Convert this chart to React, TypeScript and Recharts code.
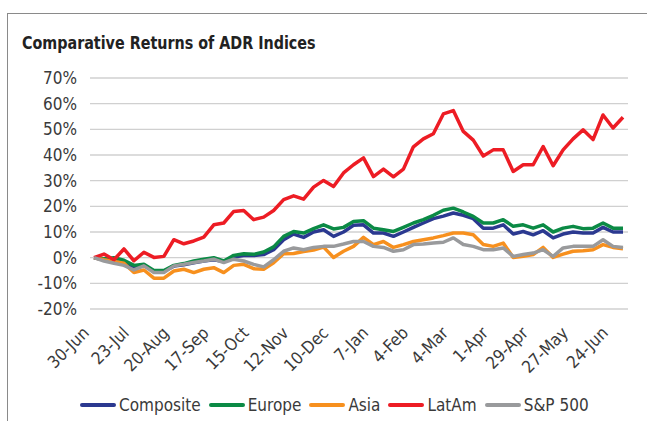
import { LineChart, Line, XAxis, YAxis, CartesianGrid, Legend } from 'recharts'

const dates = [
  '30-Jun', '2-Jul', '9-Jul', '16-Jul', '23-Jul', '30-Jul', '6-Aug', '13-Aug', '20-Aug', '27-Aug',
  '3-Sep', '10-Sep', '17-Sep', '24-Sep', '1-Oct', '8-Oct', '15-Oct', '22-Oct', '29-Oct', '5-Nov',
  '12-Nov', '19-Nov', '26-Nov', '3-Dec', '10-Dec', '17-Dec', '24-Dec', '31-Dec', '7-Jan', '14-Jan',
  '21-Jan', '28-Jan', '4-Feb', '11-Feb', '18-Feb', '25-Feb', '4-Mar', '11-Mar', '18-Mar', '25-Mar',
  '1-Apr', '8-Apr', '15-Apr', '22-Apr', '29-Apr', '6-May', '13-May', '20-May', '27-May', '3-Jun',
  '10-Jun', '17-Jun', '24-Jun', '1-Jul',
]

const composite = [
  0, -0.8, -1.5, -2, -3.5, -3, -5.3, -5.3, -3.3, -2.8,
  -2, -1.3, -0.8, -1.5, 0.3, 0.8, 0.8, 1.2, 3.1, 7.0,
  9.2, 7.9, 10.0, 10.9, 8.3, 10.0, 12.6, 12.8, 9.6, 9.6,
  8.3, 10.0, 11.8, 13.5, 15.2, 16.2, 17.4, 16.5, 15.2, 11.5,
  11.5, 12.8, 9.2, 10.2, 8.9, 10.5, 7.7, 9.2, 10.0, 9.6,
  9.6, 11.8, 10.0, 10.0,
]

const europe = [
  0, -0.4, 0, -1, -3, -2.6, -5, -5, -3, -2.3,
  -1.3, -0.6, 0, -1.3, 0.9, 1.5, 1.3, 2.2, 4.2, 8.3,
  10.2, 9.6, 11.3, 12.8, 11.2, 11.8, 14.1, 14.4, 11.5, 10.9,
  10.2, 11.8, 13.5, 14.8, 16.5, 18.5, 19.3, 17.8, 16.1, 13.5,
  13.5, 14.8, 12.2, 12.8, 11.5, 12.8, 10.0, 11.5, 12.2, 11.3,
  11.5, 13.5, 11.5, 11.5,
]

const asia = [
  0, -0.8, -1.5, -2.2, -5.8, -4.8, -8, -8, -5.2, -4.5,
  -5.8, -4.5, -3.9, -5.8, -3, -2.6, -4.3, -4.5, -2, 1.5,
  1.6, 2.4, 3.0, 4.1, 0.1, 2.5, 4.4, 7.9, 5.1, 6.3,
  4.0, 5.1, 6.3, 7.0, 7.7, 8.6, 9.6, 9.6, 8.9, 5.1,
  4.4, 5.7, 0.1, 0.5, 1.2, 4.0, 0.1, 1.4, 2.5, 2.7,
  3.1, 5.1, 4.0, 3.5,
]

const latam = [
  0, 1.4, -0.8, 3.4, -1.2, 2.1, 0.1, 0.5, 7.0, 5.4,
  6.5, 8.0, 12.8, 13.5, 18.0, 18.4, 14.8, 15.8, 18.4, 22.6,
  24.1, 22.8, 27.5, 30.1, 27.7, 33.0, 36.2, 38.9, 31.6, 34.5,
  31.5, 34.5, 43.2, 46.3, 48.3, 56.0, 57.3, 49.2, 45.8, 39.6,
  42.0, 42.0, 33.6, 36.2, 36.2, 43.3, 35.8, 42.0, 46.3, 49.8,
  46.0, 55.6, 50.5, 54.7,
]

const sp500 = [
  0, -1.3, -2.2, -3, -4.8, -3.2, -5.8, -5.8, -3.2, -2.6,
  -1.9, -1.3, -0.6, -1.9, -0.6, -1.3, -2.6, -3.6, -0.8, 2.5,
  3.8, 3.1, 4.0, 4.4, 4.4, 5.3, 6.3, 6.3, 4.4, 4.0,
  2.5, 3.1, 5.1, 5.3, 5.7, 6.0, 7.7, 5.1, 4.4, 3.1,
  3.1, 3.8, 0.5, 1.2, 1.8, 3.1, 0.5, 3.8, 4.4, 4.4,
  4.4, 7.0, 4.4, 4.0,
]

const yTicks = [-20, -10, 0, 10, 20, 30, 40, 50, 60, 70]

const seriesNames = ['Composite', 'Europe', 'Asia', 'LatAm', 'S&P 500']
const seriesColors = ['#2b3990', '#0b8a45', '#f7901e', '#ed1c24', '#999a9c']

const data = dates.map((date, i) => ({
  date,
  Composite: composite[i],
  Europe: europe[i],
  Asia: asia[i],
  LatAm: latam[i],
  'S&P 500': sp500[i],
}))

const FONT = '"DejaVu Sans Condensed", "Liberation Sans", Arial, sans-serif'
const TEXT = '#3a3a3a'

const XTick = ({ x, y, payload }: any) => (
  <text
    transform={`translate(${x - 4},${y + 25}) rotate(-45)`}
    textAnchor="end"
    fontFamily={FONT}
    fontSize={17}
    fill={TEXT}
  >
    {payload.value}
  </text>
)

// legend drawn in series order (recharts sorts the payload by name otherwise)
const renderLegend = () => (
  <div style={{ display: 'flex', alignItems: 'center', height: 24, fontFamily: FONT, fontSize: 17, color: TEXT }}>
    {seriesNames.map((name, i) => (
      <span key={name} style={{ display: 'flex', alignItems: 'center', marginRight: 8 }}>
        <span style={{ display: 'inline-block', width: 36, height: 4, background: seriesColors[i], borderRadius: 2, marginRight: 3 }} />
        {name}
      </span>
    ))}
  </div>
)

export default function App() {
  return (
    <div style={{ position: 'fixed', left: 0, top: 0, width: 647, height: 421, overflow: 'hidden', background: '#fff' }}>
      <div style={{ position: 'absolute', left: 7, top: 13, width: 700, height: 460, border: '1px solid #8a8a8a' }} />
      <div
        style={{
          position: 'absolute', left: 22, top: 32, fontFamily: FONT, fontWeight: 'bold',
          fontSize: 18.5, lineHeight: '22px', color: '#222', whiteSpace: 'nowrap',
          transform: 'scaleX(0.86)', transformOrigin: 'left center',
        }}
      >
        Comparative Returns of ADR Indices
      </div>
      <LineChart width={647} height={421} data={data} margin={{ top: 78, right: 19, left: 0, bottom: 4 }}>
        <CartesianGrid vertical={false} stroke="#d0d0d0" strokeWidth={1.3} />
        <XAxis
          dataKey="date"
          interval={3}
          axisLine={false}
          tickLine={false}
          tickSize={0}
          tickMargin={0}
          height={84}
          padding={{ left: 4, right: 5 }}
          tick={<XTick />}
        />
        <YAxis
          width={90}
          domain={[-20, 70]}
          ticks={yTicks}
          tickFormatter={(v) => `${v}%`}
          axisLine={false}
          tickLine={false}
          tickSize={0}
          tickMargin={13}
          tick={{ fontFamily: FONT, fontSize: 17, fill: TEXT }}
        />
        <Legend verticalAlign="bottom" content={renderLegend} wrapperStyle={{ left: 80, width: 560 }} />
        {seriesNames.map((name, i) => (
          <Line
            key={name}
            dataKey={name}
            stroke={seriesColors[i]}
            strokeWidth={3.5}
            dot={false}
            strokeLinejoin="round"
            isAnimationActive={false}
          />
        ))}
      </LineChart>
    </div>
  )
}
